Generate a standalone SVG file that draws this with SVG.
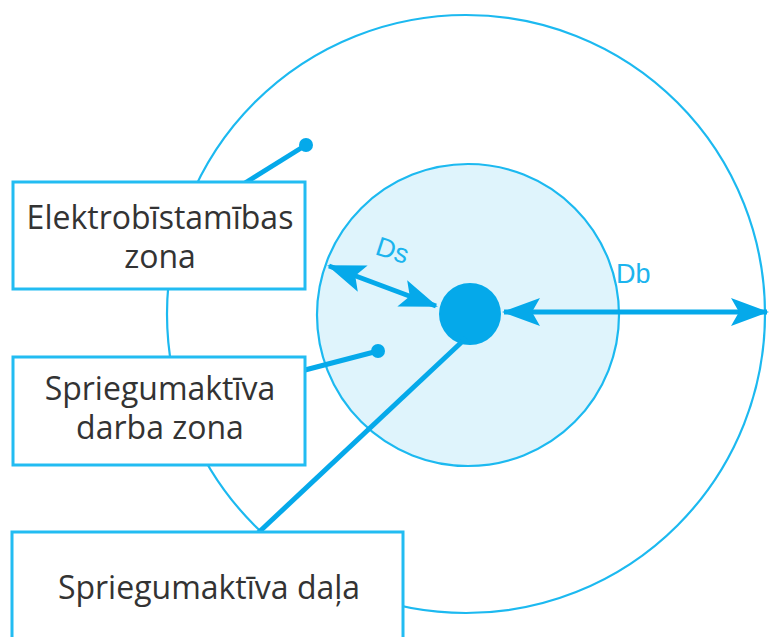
<svg xmlns="http://www.w3.org/2000/svg" width="769" height="637" viewBox="0 0 769 637">
<style>
.thin{fill:none;stroke:#1cb9f0;stroke-width:2.2}
.box{fill:#fff;stroke:#22bcf2;stroke-width:3}
.con{stroke:#05a9ea;stroke-width:5;fill:none}
.lbl{font-family:"Open Sans","Noto Sans",sans-serif;font-size:32px;fill:#333;text-anchor:middle}
.dim{font-family:"Liberation Sans",Arial,sans-serif;font-size:27px;fill:#1cb4ee}
</style>
<defs>
<marker id="ah" markerUnits="userSpaceOnUse" markerWidth="38" markerHeight="30" refX="36" refY="14" orient="auto-start-reverse" viewBox="0 0 38 28">
<path d="M0,0 L38,14 L0,28 L8,14 Z" fill="#05a9ea"/>
</marker>
</defs>
<rect width="769" height="637" fill="#fff"/>
<g id="zones">
<circle class="thin" cx="466" cy="314" r="299"/>
<circle cx="468" cy="315" r="151" fill="#dff4fc" stroke="#1cb9f0" stroke-width="2.2"/>
<circle cx="470" cy="314" r="31" fill="#05a9ea"/>
</g>
<g id="connectors">
<line class="con" x1="245" y1="183" x2="306" y2="145"/>
<circle cx="306" cy="145" r="7" fill="#05a9ea"/>
<line class="con" x1="305" y1="370" x2="378" y2="351"/>
<circle cx="378" cy="351" r="7" fill="#05a9ea"/>
<line class="con" x1="466" y1="338" x2="258" y2="533"/>
<line class="con" x1="329" y1="266" x2="436" y2="306" marker-start="url(#ah)" marker-end="url(#ah)"/>
<line class="con" stroke-width="6" x1="504" y1="312" x2="767" y2="312" marker-start="url(#ah)" marker-end="url(#ah)"/>
</g>
<g id="labels">
<text class="dim" transform="translate(374,254) rotate(18)">Ds</text>
<text class="dim" x="616" y="283">Db</text>
</g>
<g id="box-elektro">
<rect class="box" x="13" y="182" width="292" height="107"/>
<text class="lbl" x="160" y="229">Elektrobīstamības</text>
<text class="lbl" x="160" y="268">zona</text>
</g>
<g id="box-darba">
<rect class="box" x="13" y="357" width="292" height="108"/>
<text class="lbl" x="160" y="400">Spriegumaktīva</text>
<text class="lbl" x="160" y="439">darba zona</text>
</g>
<g id="box-dala">
<rect class="box" x="12" y="532" width="391" height="110"/>
<text class="lbl" x="209" y="599">Spriegumaktīva daļa</text>
</g>
</svg>
